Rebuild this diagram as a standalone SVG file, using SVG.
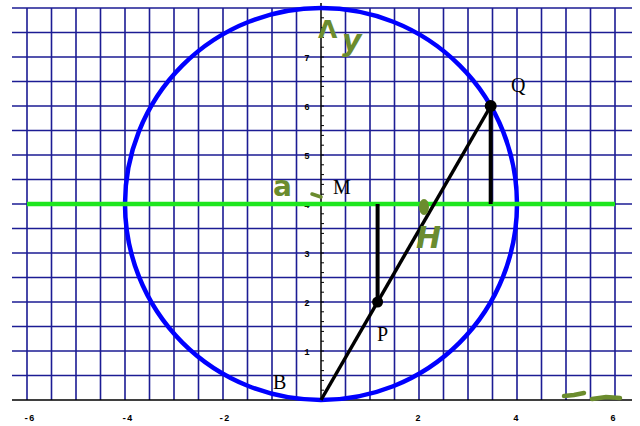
<svg xmlns="http://www.w3.org/2000/svg" width="640" height="426" viewBox="0 0 640 426">
<style>
.grid{stroke:#1c1c94;stroke-width:1.6;fill:none}
.axis{stroke:#000;stroke-width:1.5;fill:none}
.lbl{font-family:"Liberation Serif",serif;font-size:20px;fill:#000}
.tick{font-family:"Liberation Mono",monospace;font-size:9px;font-weight:bold;fill:#000;text-anchor:middle}
.hand{font-family:"DejaVu Sans",sans-serif;font-weight:bold;fill:#6b8c2e}
</style>
<rect width="640" height="426" fill="#fff"/>
<g id="grid">
<path class="grid" d="M27,8V400M51.5,8V400M76,8V400M100.5,8V400M125,8V400M149.5,8V400M174,8V400M198.5,8V400M223,8V400M247.5,8V400M272,8V400M296.5,8V400M345.5,8V400M370,8V400M394.5,8V400M419,8V400M443.5,8V400M468,8V400M492.5,8V400M517,8V400M541.5,8V400M566,8V400M590.5,8V400M615,8V400"/>
<path class="grid" d="M12,8H632M12,32.5H632M12,57H632M12,81.5H632M12,106H632M12,130.5H632M12,155H632M12,179.5H632M12,204H632M12,228.5H632M12,253H632M12,277.5H632M12,302H632M12,326.5H632M12,351H632M12,375.5H632"/>
</g>
<g id="axes">
<path class="axis" d="M12,400H632M321,3V400"/>
<path stroke="#000" stroke-width="1" d="M321,390.2h3m-3,-9.8h3m-3,-9.8h3m-3,-9.8h3m-3,-9.8h3m-3,-9.8h3m-3,-9.8h3m-3,-9.8h3m-3,-9.8h3m-3,-9.8h3m-3,-9.8h3m-3,-9.8h3m-3,-9.8h3m-3,-9.8h3m-3,-9.8h3m-3,-9.8h3m-3,-9.8h3m-3,-9.8h3m-3,-9.8h3m-3,-9.8h3m-3,-9.8h3m-3,-9.8h3m-3,-9.8h3m-3,-9.8h3m-3,-9.8h3m-3,-9.8h3m-3,-9.8h3m-3,-9.8h3m-3,-9.8h3m-3,-9.8h3m-3,-9.8h3m-3,-9.8h3m-3,-9.8h3m-3,-9.8h3m-3,-9.8h3m-3,-9.8h3m-3,-9.8h3m-3,-9.8h3m-3,-9.8h3"/>
<text class="tick" x="29" y="421">-6</text>
<text class="tick" x="127" y="421">-4</text>
<text class="tick" x="224" y="421">-2</text>
<text class="tick" x="418" y="421">2</text>
<text class="tick" x="516" y="421">4</text>
<text class="tick" x="613" y="421">6</text>
<text class="tick" x="307" y="355">1</text>
<text class="tick" x="307" y="306">2</text>
<text class="tick" x="307" y="257">3</text>
<text class="tick" x="307" y="208">4</text>
<text class="tick" x="307" y="159">5</text>
<text class="tick" x="307" y="110">6</text>
<text class="tick" x="307" y="61">7</text>
</g>
<g id="circle">
<circle cx="321" cy="204" r="196" fill="none" stroke="#0000ff" stroke-width="4.5"/>
</g>
<g id="green-line">
<line x1="27" y1="204" x2="615" y2="204" stroke="#1ee61e" stroke-width="4.5"/>
</g>
<g id="connectors">
<line x1="321" y1="400" x2="490.7" y2="106" stroke="#000" stroke-width="3.5"/>
<line x1="377.6" y1="302" x2="377.6" y2="204" stroke="#000" stroke-width="4"/>
<line x1="490.7" y1="106" x2="490.7" y2="204" stroke="#000" stroke-width="4"/>
</g>
<g id="P"><circle cx="377.6" cy="302" r="5.5" fill="#000"/><text class="lbl" x="377" y="341">P</text></g>
<g id="Q"><circle cx="490.7" cy="106" r="6" fill="#000"/><text class="lbl" x="511" y="92">Q</text></g>
<g id="M"><text class="lbl" x="333" y="194">M</text></g>
<g id="B"><text class="lbl" x="273" y="389">B</text></g>
<g id="annotations">
<text class="hand" x="318" y="38" font-size="25">Λ</text>
<text class="hand" x="342" y="51" font-size="30" font-style="italic">y</text>
<text class="hand" x="273" y="196" font-size="28">a</text>
<path d="M312,194 L321,197" stroke="#6b8c2e" stroke-width="3.5" stroke-linecap="round" fill="none"/>
<ellipse cx="424" cy="207" rx="5" ry="8" fill="#6b8c2e"/>
<text class="hand" x="416" y="248" font-size="30" font-style="italic">H</text>
<path d="M564,396 L574,395 L584,393 M592,399 L606,397 L620,398" stroke="#6b8c2e" stroke-width="4.5" stroke-linecap="round" fill="none"/>
</g>
</svg>
